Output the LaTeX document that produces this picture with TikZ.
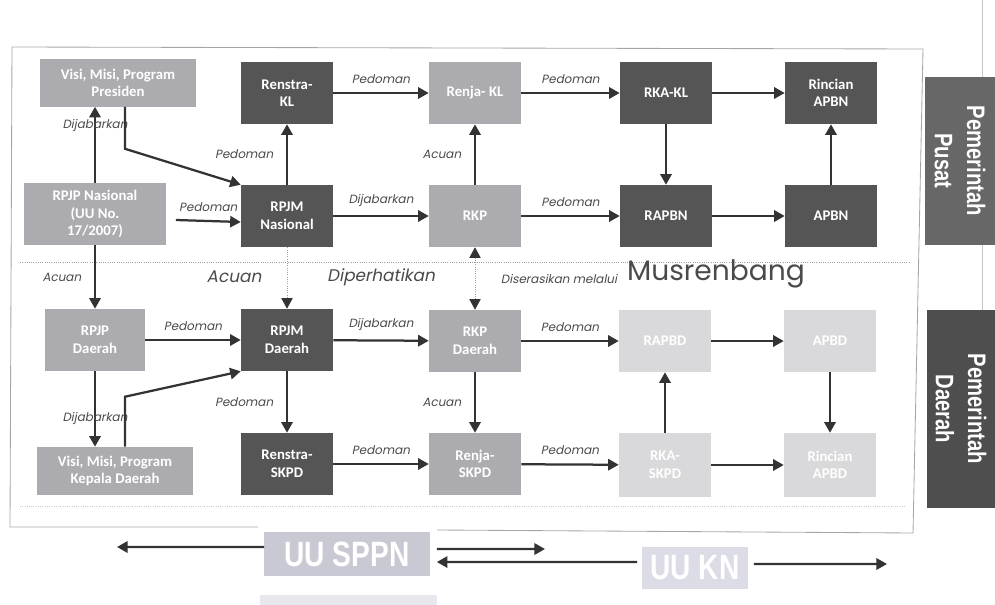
\documentclass[tikz,border=0pt]{standalone}
\usepackage{fontspec}
\setmainfont{Carlito}
\newfontfamily\lblfont[FakeSlant=0.2]{Poppins}
\newfontfamily\musfont{Poppins}
\newfontfamily\narrowfont[FakeStretch=0.8]{Liberation Sans}
\usepackage{tikz}
\usetikzlibrary{arrows.meta}
\definecolor{boxdark}{HTML}{555555}
\definecolor{boxmid}{HTML}{ACACB0}
\definecolor{boxlight}{HTML}{D9D9DB}
\definecolor{boxpusat}{HTML}{676767}
\definecolor{boxdaerah}{HTML}{4E4E4E}
\definecolor{linegray}{HTML}{333333}
\definecolor{lblgray}{HTML}{4A4A4A}
\definecolor{uufill}{HTML}{C9C9D4}
\definecolor{uufilltwo}{HTML}{DCDCE6}
\tikzset{
  box/.style={text=white, font=\bfseries\fontsize{10.5}{12.5}\selectfont, align=center,
    minimum width=2.3cm, minimum height=1.55cm, inner sep=1pt},
  dark/.style={box, fill=boxdark},
  mid/.style={box, fill=boxmid},
  light/.style={box, fill=boxlight},
  arr/.style={draw=linegray, line width=1.6pt, -{Triangle[length=7.5pt,width=8pt]}},
  dots/.style={draw=gray!75, densely dotted, line width=0.6pt},
  lbl/.style={font=\lblfont\fontsize{8.5}{10}\selectfont, text=lblgray, inner sep=1pt},
  midlbl/.style={font=\lblfont\fontsize{12}{14}\selectfont, text=lblgray, inner sep=1pt},
  side/.style={text=white, rotate=-90, align=center, inner sep=1pt,
    font=\narrowfont\bfseries\fontsize{18}{23}\selectfont},
  uubox/.style={text=white, inner sep=1pt, font=\narrowfont\bfseries\fontsize{25}{25}\selectfont},
}
\begin{document}
\begin{tikzpicture}[x=0.025cm,y=-0.025cm]
	\useasboundingbox (0,0) rectangle (995,605);
	\draw[gray!45, line width=0.5pt] (982,0) -- (982,508);
	\draw[gray!70, line width=0.6pt] (258,527) -- (10,527) -- (12,47) -- (923,49) -- (913,533) -- (437,530);
	\draw[dots] (20,262) -- (910,262);
	\draw[dots, gray!40] (20,506) -- (905,506);
	% pemerintah pusat
	\node[mid, minimum width=3.875cm, minimum height=1.175cm] (visipres) at (118,83) {Visi, Misi, Program\\Presiden};
	\node[dark] (renstrakl) at (287,93) {Renstra-\\KL};
	\node[mid] (renjakl) at (475,93) {Renja- KL};
	\node[dark] (rkakl) at (666,93) {RKA-KL};
	\node[dark] (rincianapbn) at (831,93) {Rincian\\APBN};
	\node[mid, minimum width=3.525cm] (rpjpnas) at (95,214) {RPJP Nasional\\(UU No.\\17/2007)};
	\node[dark] (rpjmnas) at (287,216) {RPJM\\Nasional};
	\node[mid] (rkp) at (475,216) {RKP};
	\node[dark] (rapbn) at (666,216) {RAPBN};
	\node[dark] (apbn) at (831,216) {APBN};
	\node[side, fill=boxpusat, minimum width=4.2cm, minimum height=1.75cm] (pusat) at (960,161) {Pemerintah\\Pusat};
	\draw[arr] (rpjpnas.north) -- (rpjpnas.north |- visipres.south) node[lbl, pos=0.75] {Dijabarkan};
	\draw[arr] ([xshift=0.175cm]visipres.south) -- ++(0,42) -- (rpjmnas.north west);
	\draw[arr] ([xshift=0.25cm,yshift=-0.15cm]rpjpnas.east) -- ([yshift=-0.15cm]rpjmnas.west) node[lbl, midway, above=5pt] {Pedoman};
	\draw[arr] (rpjmnas) -- (renstrakl) node[lbl, midway, left=8pt] {Pedoman};
	\draw[arr] (rpjmnas) -- (rkp) node[lbl, midway, above=5pt] {Dijabarkan};
	\draw[arr] (renstrakl) -- (renjakl) node[lbl, midway, above=5pt] {Pedoman};
	\draw[arr] (rkp) -- (renjakl) node[lbl, midway, left=8pt] {Acuan};
	\draw[arr] (renjakl) -- (rkakl) node[lbl, midway, above=5pt] {Pedoman};
	\draw[arr] (rkakl) -- (rincianapbn);
	\draw[arr] (rkakl) -- (rapbn);
	\draw[arr] (rkp) -- (rapbn) node[lbl, midway, above=5pt] {Pedoman};
	\draw[arr] (rapbn) -- (apbn);
	\draw[arr] (apbn) -- (rincianapbn);
	% pemerintah daerah
	\node[mid, minimum width=2.5cm] (rpjpd) at (95,340) {RPJP\\Daerah};
	\node[dark] (rpjmd) at (287,340) {RPJM\\Daerah};
	\node[mid] (rkpd) at (475,341) {RKP\\Daerah};
	\node[light] (rapbd) at (665,341) {RAPBD};
	\node[light] (apbd) at (830,341) {APBD};
	\node[mid, minimum width=3.875cm, minimum height=1.2cm] (visikd) at (115,471) {Visi, Misi, Program\\Kepala Daerah};
	\node[dark] (renstraskpd) at (287,464) {Renstra-\\SKPD};
	\node[mid] (renjaskpd) at (475,464) {Renja-\\SKPD};
	\node[light, minimum height=1.6cm] (rkaskpd) at (665,465) {RKA-\\SKPD};
	\node[light, minimum height=1.6cm] (rincianapbd) at (830,465) {Rincian\\APBD};
	\node[side, fill=boxdaerah, minimum width=4.95cm, minimum height=1.7cm] (daerah) at (961,409) {Pemerintah\\Daerah};
	\draw[arr] (rpjpnas.south) -- (rpjpnas.south |- rpjpd.north) node[lbl, midway, left=8pt] {Acuan};
	\draw[dots, -{Triangle[length=7.5pt,width=8pt,color=linegray]}] (rpjmnas) -- (rpjmd);
	\draw[dots, {Triangle[length=7.5pt,width=8pt,color=linegray]}-{Triangle[length=7.5pt,width=8pt,color=linegray]}] (rkp) -- (rkpd);
	\node[midlbl] (acuanmid) at (234,277) {Acuan};
	\node[midlbl] (diperhatikan) at (381,277) {Diperhatikan};
	\node[lbl, font=\lblfont\fontsize{8.5}{10}\selectfont] (diserasikan) at (559,279) {Diserasikan melalui};
	\node[text=lblgray, inner sep=0pt, font=\musfont\fontsize{20}{22}\selectfont] (musrenbang) at (716,274) {Musrenbang};
	\draw[arr] (rpjpd) -- (rpjmd) node[lbl, midway, above=5pt] {Pedoman};
	\draw[arr] (rpjmd) -- (rkpd) node[lbl, midway, above=5pt] {Dijabarkan};
	\draw[arr] (rkpd) -- (rapbd) node[lbl, midway, above=5pt] {Pedoman};
	\draw[arr] (rapbd) -- (apbd);
	\draw[arr] (rpjpd.south) -- (rpjpd.south |- visikd.north) node[lbl, pos=0.63] {Dijabarkan};
	\draw[arr] ([xshift=0.25cm]visikd.north) -- ++(0,-50) -- (rpjmd.south west);
	\draw[arr] (rpjmd) -- (renstraskpd) node[lbl, midway, left=8pt] {Pedoman};
	\draw[arr] (rkpd) -- (renjaskpd) node[lbl, midway, left=8pt] {Acuan};
	\draw[arr] (renstraskpd) -- (renjaskpd) node[lbl, midway, above=5pt] {Pedoman};
	\draw[arr] (renjaskpd) -- (rkaskpd) node[lbl, midway, above=5pt] {Pedoman};
	\draw[arr] (rkaskpd) -- (rapbd);
	\draw[arr] (rkaskpd) -- (rincianapbd);
	\draw[arr] (apbd) -- (rincianapbd);
	% undang-undang
	\node[uubox, fill=uufill, minimum width=4.125cm, minimum height=1.075cm] (uusppn) at (347,554) {UU SPPN};
	\node[uubox, fill=uufilltwo, minimum width=2.625cm, minimum height=1.05cm] (uukn) at (695,568) {UU KN};
	\fill[uufilltwo!70] (260,595) rectangle (437,605);
	\coordinate (sppnleft) at (117,547);
	\coordinate (sppnright) at (545,549);
	\coordinate (knright) at (887,564);
	\draw[arr] ([yshift=0.175cm]uusppn.west) -- (sppnleft);
	\draw[arr] ([xshift=0.175cm,yshift=0.125cm]uusppn.east) -- (sppnright);
	\draw[arr] ([xshift=-0.125cm,yshift=0.15cm]uukn.west) -- ([xshift=0.175cm,yshift=-0.2cm]uusppn.east);
	\draw[arr] ([xshift=0.15cm,yshift=0.1cm]uukn.east) -- (knright);
\end{tikzpicture}
\end{document}
